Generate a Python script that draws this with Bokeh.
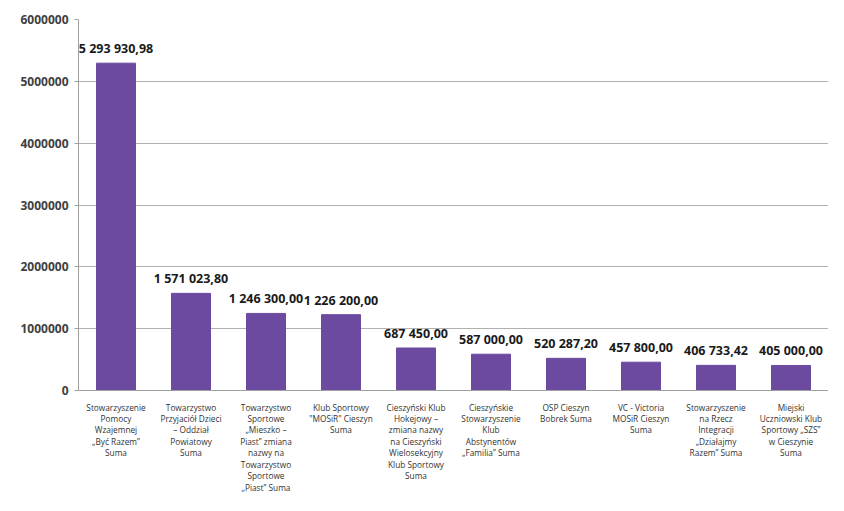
from bokeh.plotting import figure
from bokeh.models import ColumnDataSource, Range1d, FixedTicker, BasicTickFormatter
from bokeh.core.properties import value
from bokeh.embed import file_html
from bokeh.resources import INLINE

categories = [
    "Stowarzyszenie\nPomocy\nWzajemnej\n„Być Razem”\nSuma",
    "Towarzystwo\nPrzyjaciół Dzieci\n– Oddział\nPowiatowy\nSuma",
    "Towarzystwo\nSportowe\n„Mieszko –\nPiast” zmiana\nnazwy na\nTowarzystwo\nSportowe\n„Piast” Suma",
    "Klub Sportowy\n\"MOSiR\" Cieszyn\nSuma",
    "Cieszyński Klub\nHokejowy –\nzmiana nazwy\nna Cieszyński\nWielosekcyjny\nKlub Sportowy\nSuma",
    "Cieszyńskie\nStowarzyszenie\nKlub\nAbstynentów\n„Familia” Suma",
    "OSP Cieszyn\nBobrek Suma",
    "VC - Victoria\nMOSiR Cieszyn\nSuma",
    "Stowarzyszenie\nna Rzecz\nIntegracji\n„Działajmy\nRazem” Suma",
    "Miejski\nUczniowski Klub\nSportowy „SZS”\nw Cieszynie\nSuma",
]
amounts = [5293930.98, 1571023.80, 1246300.00, 1226200.00, 687450.00,
           587000.00, 520287.20, 457800.00, 406733.42, 405000.00]
y_ticks = [0, 1000000, 2000000, 3000000, 4000000, 5000000, 6000000]


def fmt(v):
    return f"{v:,.2f}".replace(",", " ").replace(".", ",")


labels = [fmt(v) for v in amounts]
src = ColumnDataSource(dict(cat=categories, val=amounts, lab=labels))

p = figure(x_range=categories, width=828, height=495, output_backend="svg",
           toolbar_location=None, min_border_left=78, min_border_top=19,
           min_border_bottom=95, min_border_right=0)
p.y_range = Range1d(0, 6000000)
p.vbar(x="cat", top="val", width=0.52, source=src, fill_color="#6b4aa0",
       line_color="#6b4aa0")
p.text(x="cat", y="val", text="lab", source=src, y_offset=-6,
       text_align="center", text_baseline="bottom", text_font=value("Open Sans"),
       text_font_style="bold", text_font_size="12.5px", text_color="#1a1a1a")

p.outline_line_color = None
p.xgrid.grid_line_color = None
p.ygrid.grid_line_color = "#b0b0b0"
p.ygrid.grid_line_width = 1

p.yaxis.ticker = FixedTicker(ticks=y_ticks)
p.yaxis.formatter = BasicTickFormatter(use_scientific=False)
p.yaxis.axis_line_color = "#a0a0a0"
p.yaxis.major_tick_line_color = "#a0a0a0"
p.yaxis.major_tick_out = 4
p.yaxis.major_tick_in = 0
p.yaxis.minor_tick_line_color = None
p.yaxis.major_label_text_font = "Open Sans"
p.yaxis.major_label_text_font_style = "bold"
p.yaxis.major_label_text_font_size = "12px"
p.yaxis.major_label_text_color = "#404040"
p.yaxis.major_label_standoff = 6

p.xaxis.axis_line_color = "#a0a0a0"
p.xaxis.major_tick_line_color = None
p.xaxis.major_label_text_font = "Open Sans"
p.xaxis.major_label_text_font_size = "8.3px"
p.xaxis.major_label_text_color = "#333333"
p.xaxis.major_label_text_line_height = 1.04
p.xaxis.major_label_standoff = 5

open("out.html", "w").write(file_html(p, INLINE))
